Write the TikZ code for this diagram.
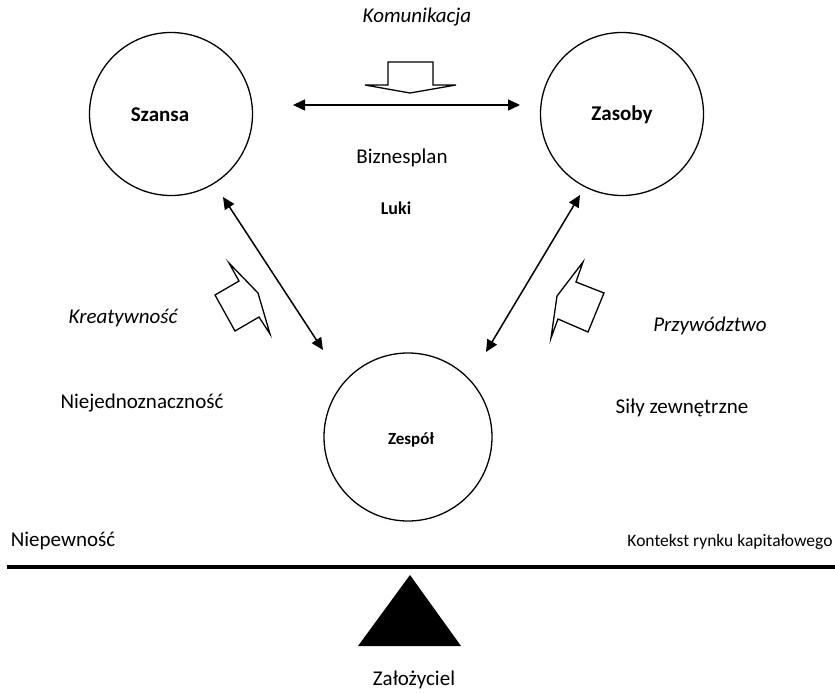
\documentclass[tikz,border=0pt]{standalone}
\usepackage{fontspec}
\setmainfont{Carlito}
\usetikzlibrary{positioning, arrows.meta, calc}

\begin{document}
\begin{tikzpicture}[x=1pt,y=-1pt,
    circ/.style={circle,draw,line width=1.3pt,minimum size=163pt,inner sep=0pt},
    lbl/.style={font=\fontsize{21}{25}\selectfont,inner sep=0pt},
    ital/.style={lbl,font=\fontsize{21}{25}\selectfont\itshape},
    dbl/.style={{Triangle[length=12pt,width=11pt]}-{Triangle[length=12pt,width=11pt]},line width=1.5pt},
    blk/.style={line width=1.3pt,line join=miter}]
    \useasboundingbox (0,0) rectangle (835,693);

    % the three circles
    \node[circ] (szansa) at (171,114) {};
    \node[circ] (zasoby) at (622,114) {};
    \node[circ,minimum size=168pt] (zespol) at (408,437) {};
    \node[lbl,font=\fontsize{21}{25}\selectfont\bfseries] (szansaT) at (160,115) {Szansa};
    \node[lbl,font=\fontsize{21}{25}\selectfont\bfseries] (zasobyT) at (622,115) {Zasoby};
    \node[lbl,font=\fontsize{17}{20}\selectfont\bfseries] (zespolT) at (411,440) {Zespół};

    % double arrows between them
    \draw[dbl] ($(szansa.center)+(122,-9)$) -- ($(zasoby.center)+(-102,-9)$);
    \draw[dbl] ($(szansa.center)+(52,83)$) -- ($(zespol.center)+(-85,-87)$);
    \draw[dbl] ($(zasoby.center)+(-42,81)$) -- ($(zespol.center)+(78,-85)$);

    % block arrows
    \draw[blk] (388,62) -- (433,62) -- (433,85) -- (456,85) -- (410,93)
        -- (365,85) -- (388,85) -- cycle;
    \draw[blk] (229,263) -- (239,281) -- (215,295) -- (235,331) -- (259,317)
        -- (270,334) -- (258,293) -- cycle;
    \draw[blk] (583,262) -- (576,282) -- (604,293) -- (588,332) -- (558,319)
        -- (551,338) -- (557,296) -- cycle;

    %putting labels:
    \node[ital] (komunikacja) at (417,17) {Komunikacja};
    \node[lbl] (biznesplan) at (402,158) {Biznesplan};
    \node[lbl,font=\fontsize{18}{21}\selectfont\bfseries] (luki) at (396,208) {Luki};
    \node[ital] (kreatywnosc) at (123,318) {Kreatywność};
    \node[ital] (przywodztwo) at (710,326) {Przywództwo};
    \node[lbl] (niejedn) at (142,403) {Niejednoznaczność};
    \node[lbl] (sily) at (682,408) {Siły zewnętrzne};
    \node[lbl] (niepewnosc) at (63,541) {Niepewność};
    \node[lbl,font=\fontsize{17.5}{21}\selectfont] (kontekst) at (730,542) {Kontekst rynku kapitałowego};

    % the lever and its pivot
    \draw[line width=4pt] (7,567) -- (835,567);
    \fill (410,575) -- (461,646) -- (358,646) -- cycle;
    \node[lbl] (zalozyciel) at (414,680) {Założyciel};
\end{tikzpicture}
\end{document}
